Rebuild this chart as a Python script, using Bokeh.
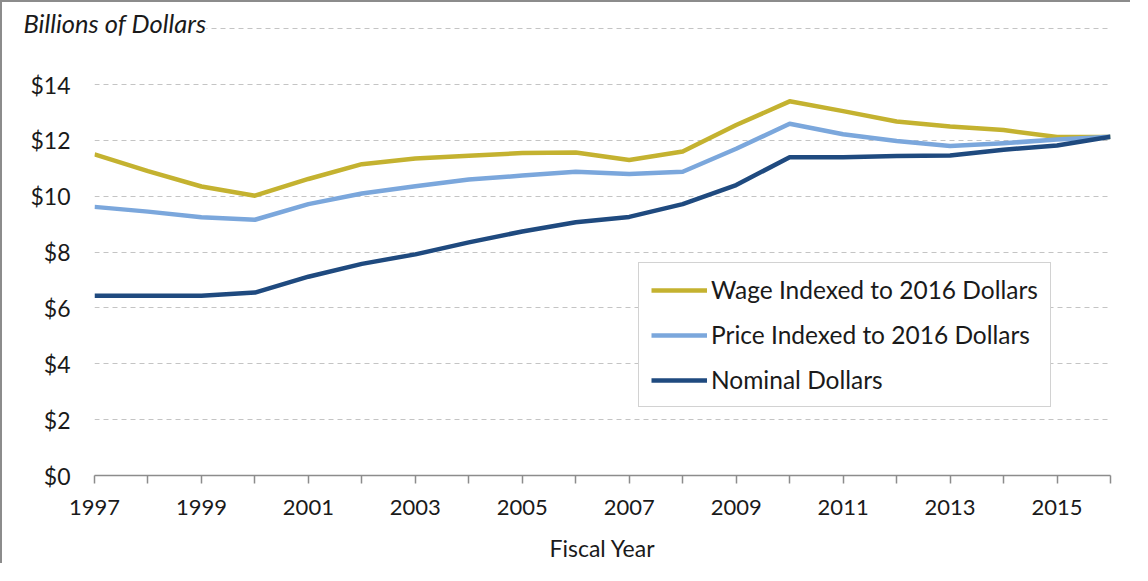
from bokeh.plotting import figure
from bokeh.models import (FixedTicker, Legend, LegendItem, Range1d)
from bokeh.embed import file_html
from bokeh.resources import INLINE

years = list(range(1997, 2017))
wage = [11.50, 10.90, 10.35, 10.02, 10.62, 11.15, 11.35, 11.45, 11.55, 11.57,
        11.30, 11.60, 12.55, 13.40, 13.05, 12.68, 12.50, 12.37, 12.12, 12.12]
price = [9.62, 9.45, 9.25, 9.16, 9.72, 10.10, 10.36, 10.60, 10.74, 10.88,
         10.80, 10.88, 11.70, 12.60, 12.22, 11.98, 11.80, 11.90, 12.03, 12.13]
nominal = [6.44, 6.44, 6.44, 6.55, 7.12, 7.58, 7.92, 8.35, 8.74, 9.07,
           9.26, 9.72, 10.40, 11.40, 11.40, 11.44, 11.46, 11.67, 11.82, 12.13]

series_names = ["Wage Indexed to 2016 Dollars", "Price Indexed to 2016 Dollars", "Nominal Dollars"]
series_colors = ["#C4B230", "#7BA7DC", "#1F4A7F"]

y_ticks = [0, 2, 4, 6, 8, 10, 12, 14, 16]
y_tick_labels = ["$0", "$2", "$4", "$6", "$8", "$10", "$12", "$14", ""]
x_label_years = [1997, 1999, 2001, 2003, 2005, 2007, 2009, 2011, 2013, 2015]

FONT = "Lato"

p = figure(width=1130, height=563, output_backend="svg", toolbar_location=None,
           x_range=Range1d(1997, 2016), y_range=Range1d(0, 16.08),
           min_border_left=92, min_border_right=22, min_border_top=24, min_border_bottom=90,
           styles={"border-top": "2px solid #8c8c8c", "border-left": "2px solid #8c8c8c"})
p.outline_line_color = None
p.background_fill_color = "white"
p.border_fill_color = "white"

renderers = []
for vals, col in zip([wage, price, nominal], series_colors):
    r = p.line(years, vals, line_color=col, line_width=4.5, line_join="round")
    renderers.append(r)

# y axis
p.yaxis.ticker = FixedTicker(ticks=y_ticks)
p.yaxis.major_label_overrides = {t: l for t, l in zip(y_ticks, y_tick_labels)}
p.yaxis.axis_line_color = None
p.yaxis.major_tick_line_color = None
p.yaxis.minor_tick_line_color = None
p.yaxis.major_label_standoff = 18
p.yaxis.major_label_text_font = FONT
p.yaxis.major_label_text_font_size = "23px"
p.yaxis.major_label_text_color = "#1a1a1a"

# x axis
p.xaxis.ticker = FixedTicker(ticks=years)
p.xaxis.major_label_overrides = {y: (str(y) if y in x_label_years else "") for y in years}
p.xaxis.axis_line_color = "#8c8c8c"
p.xaxis.axis_line_width = 1.5
p.xaxis.major_tick_line_color = "#8c8c8c"
p.xaxis.major_tick_line_width = 1.5
p.xaxis.major_tick_out = 8
p.xaxis.major_tick_in = 0
p.xaxis.minor_tick_line_color = None
p.xaxis.major_label_standoff = 16
p.xaxis.major_label_text_font = FONT
p.xaxis.major_label_text_font_size = "22px"
p.xaxis.major_label_text_color = "#1a1a1a"
p.xaxis.axis_label = "Fiscal Year"
p.xaxis.axis_label_text_font = FONT
p.xaxis.axis_label_text_font_size = "23px"
p.xaxis.axis_label_text_font_style = "normal"
p.xaxis.axis_label_text_color = "#1a1a1a"
p.xaxis.axis_label_standoff = 16

# grid
p.xgrid.grid_line_color = None
p.ygrid.ticker = FixedTicker(ticks=y_ticks)
p.ygrid.grid_line_color = "#c4c4c4"
p.ygrid.grid_line_dash = "5 4"
p.ygrid.grid_line_width = 1

# unit label, as a left-aligned title above the frame
p.title.text = "Billions of Dollars"
p.title.align = "left"
p.title.offset = -71
p.title.standoff = -22
p.title.text_font = FONT
p.title.text_font_size = "25.5px"
p.title.text_font_style = "italic"
p.title.text_color = "#1a1a1a"
p.title.background_fill_color = "white"

legend = Legend(items=[LegendItem(label=n, renderers=[r]) for n, r in zip(series_names, renderers)],
                location=(544, 68), orientation="vertical")
legend.label_text_font = FONT
legend.label_text_font_size = "24.5px"
legend.label_text_color = "#1a1a1a"
legend.glyph_width = 56
legend.glyph_height = 24
legend.label_height = 24
legend.spacing = 16
legend.padding = 12
legend.label_standoff = 4
legend.border_line_color = "#a6a6a6"
legend.border_line_width = 1.5
legend.background_fill_alpha = 1.0
p.add_layout(legend, "center")

open("out.html", "w").write(file_html(p, INLINE))
